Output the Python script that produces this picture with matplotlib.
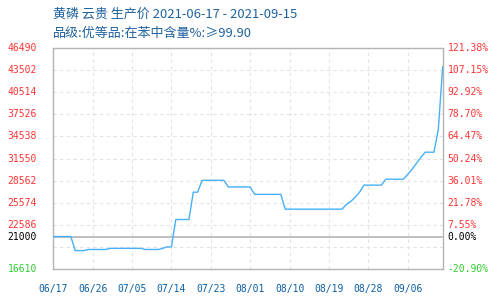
import matplotlib
matplotlib.use("Agg")
import matplotlib.pyplot as plt

# ---- data ----
prices = ([21000]*5 + [19100]*3 + [19250]*5 + [19400]*8 + [19250]*4 +
          [19400, 19600, 19600] + [23300]*4 + [27000]*2 + [28600]*6 +
          [27700]*6 + [26700]*7 + [24700]*14 + [25350, 25750, 26300, 27000] +
          [27950]*5 + [28750]*5 + [29400, 30100, 30900, 31700] + [32400]*3 +
          [35500, 43950])
date_labels = ["06/17", "06/26", "07/05", "07/14", "07/23", "08/01",
               "08/10", "08/19", "08/28", "09/06"]
base_price = 21000
y_min, y_max = 16610, 46490
y_step = 2988
title1 = "黄磷 云贵 生产价 2021-06-17 - 2021-09-15"
title2 = "品级:优等品:在苯中含量%:≥99.90"

RED = "#ff3333"
GREEN = "#33cc33"
BLUE_TXT = "#1f62a0"
XLBL = "#0b5fa5"
LINE = "#46b0f8"
BORDER = "#b4b4b4"

fig = plt.figure(figsize=(5.0, 2.99), dpi=100)
ax = fig.add_axes([53.3/500, 1-269/299, 389.4/500, 221/299])

x = list(range(len(prices)))
ax.plot(x, prices, color=LINE, lw=1.0, zorder=3)
ax.axhline(base_price, color=BORDER, lw=1.2, zorder=2)

ax.set_xlim(0, len(prices)-1)
ax.set_ylim(y_min, y_max)

yticks = [y_max - k*y_step for k in range(10)] + [y_min]
ax.set_yticks(yticks)
ax.set_yticklabels([])
ax.set_xticks(list(range(0, 9*len(date_labels), 9)))
ax.set_xticklabels(date_labels, fontfamily="DejaVu Sans Mono", fontsize=7, color=XLBL)
ax.tick_params(axis="x", length=0, pad=11)
ax.tick_params(axis="y", length=0)
ax.grid(True, color="#e3e3e3", ls=(0, (3, 3)), lw=0.8, zorder=0)

for s in ax.spines.values():
    s.set_color(BORDER)
    s.set_linewidth(1.0)

mono = dict(fontfamily="DejaVu Sans Mono", fontsize=7, va="center")
trans_l = ax.get_yaxis_transform()
labeled = [y_max - k*y_step for k in range(9)]
for v in labeled:
    pct = (v / base_price - 1) * 100
    ax.text(-0.042, v, f"{v}", transform=trans_l, ha="right", color=RED, **mono)
    ax.text(1.012, v, f"{pct:.2f}%", transform=trans_l, ha="left", color=RED, **mono)
ax.text(-0.042, base_price, f"{base_price}", transform=trans_l, ha="right", color="black", **mono)
ax.text(1.012, base_price, "0.00%", transform=trans_l, ha="left", color="black", **mono)
pmin = (y_min / base_price - 1) * 100
ax.text(-0.042, y_min, f"{y_min}", transform=trans_l, ha="right", color=GREEN, **mono)
ax.text(1.012, y_min, f"{pmin:.2f}%", transform=trans_l, ha="left", color=GREEN, **mono)

fam = ["Noto Sans CJK SC", "DejaVu Sans"]
fig.text(53/500, 1-14/299, title1, fontfamily=fam, fontsize=9.4, color=BLUE_TXT, va="center", ha="left")
fig.text(53/500, 1-33.5/299, title2, fontfamily=fam, fontsize=9.4, color=BLUE_TXT, va="center", ha="left")

fig.savefig("out.png", dpi=100)
